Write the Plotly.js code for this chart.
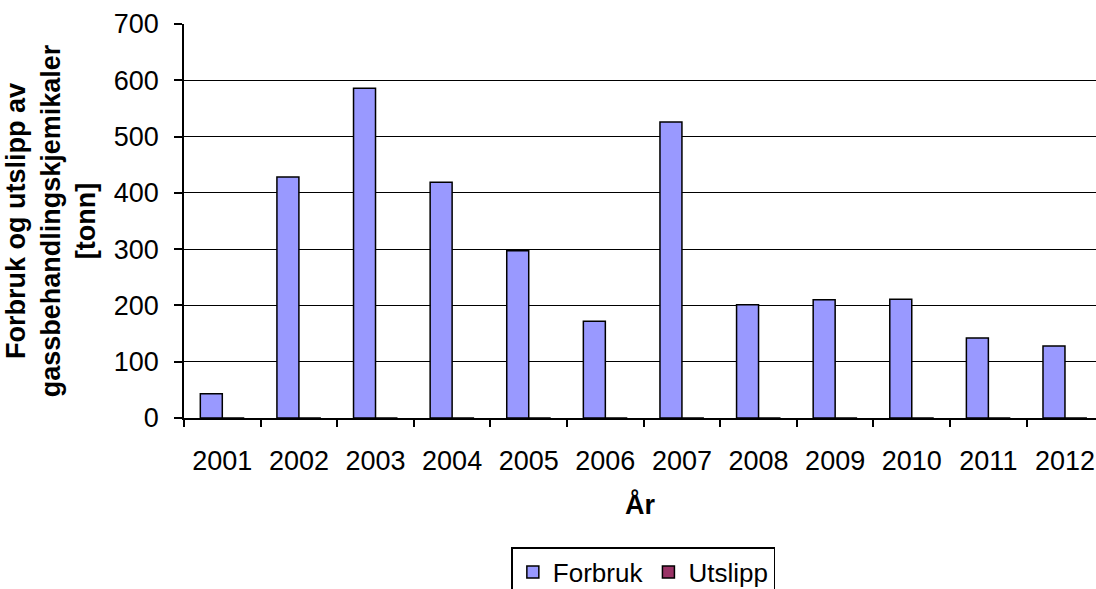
<!DOCTYPE html>
<html>
<head>
<meta charset="utf-8">
<script src="https://cdn.plot.ly/plotly-3.0.1.min.js"></script>
<style>
  html, body { margin: 0; padding: 0; background: #fff; }
  #chart { width: 1096px; height: 589px; }
</style>
</head>
<body>
<div id="chart"></div>
<script>
var years = ['2001', '2002', '2003', '2004', '2005', '2006', '2007', '2008', '2009', '2010', '2011', '2012'];
var forbruk = [43, 428, 586, 419, 297, 172, 526, 201, 210, 211, 142, 128];
var utslipp = [0, 0, 0, 0, 0, 0, 0, 0, 0, 0, 0, 0];

var font = "'Liberation Sans', Arial, sans-serif";

var trace1 = {
  x: years,
  y: forbruk,
  type: 'bar',
  name: 'Forbruk',
  marker: {
    color: '#9999ff',
    line: {color: '#000', width: 1.5}
  }
};
var trace2 = {
  x: years,
  y: utslipp,
  type: 'bar',
  name: 'Utslipp',
  marker: {
    color: '#993366',
    line: {color: '#000', width: 1.5}
  }
};

var layout = {
  width: 1096,
  height: 589,
  margin: {l: 184, r: 0, t: 24, b: 171},
  paper_bgcolor: '#fff',
  plot_bgcolor: '#fff',
  font: {family: font, size: 27, color: '#000'},
  barmode: 'group',
  bargap: 0.426,
  bargroupgap: 0,
  showlegend: true,
  xaxis: {
    type: 'category',
    range: [-0.5, 11.405],
    showline: true,
    linecolor: '#000',
    linewidth: 2,
    ticks: 'outside',
    tickson: 'boundaries',
    ticklen: 7,
    tickwidth: 1.5,
    tickcolor: '#000',
    ticklabelstandoff: 18,
    showgrid: false,
    automargin: false,
    title: {text: '<b>År</b>', standoff: 20, font: {size: 27}}
  },
  yaxis: {
    range: [0, 700],
    dtick: 100,
    showline: true,
    linecolor: '#000',
    linewidth: 1.5,
    ticks: 'outside',
    ticklen: 8,
    tickwidth: 1.5,
    tickcolor: '#000',
    ticklabelstandoff: 10,
    gridcolor: '#000',
    gridwidth: 1.3,
    zeroline: false,
    automargin: false,
    title: {
      text: '<b>Forbruk og utslipp av<br>gassbehandlingskjemikaler<br>[tonn]</b>',
      standoff: 10,
      font: {size: 27}
    }
  },
  legend: {
    orientation: 'h',
    xref: 'container',
    yref: 'container',
    x: 0.587,
    xanchor: 'center',
    y: 0.0713,
    yanchor: 'top',
    bordercolor: '#000',
    borderwidth: 1.5,
    font: {size: 26},
    itemwidth: 30
  }
};

Plotly.newPlot('chart', [trace1, trace2], layout, {displayModeBar: false});
</script>
</body>
</html>
